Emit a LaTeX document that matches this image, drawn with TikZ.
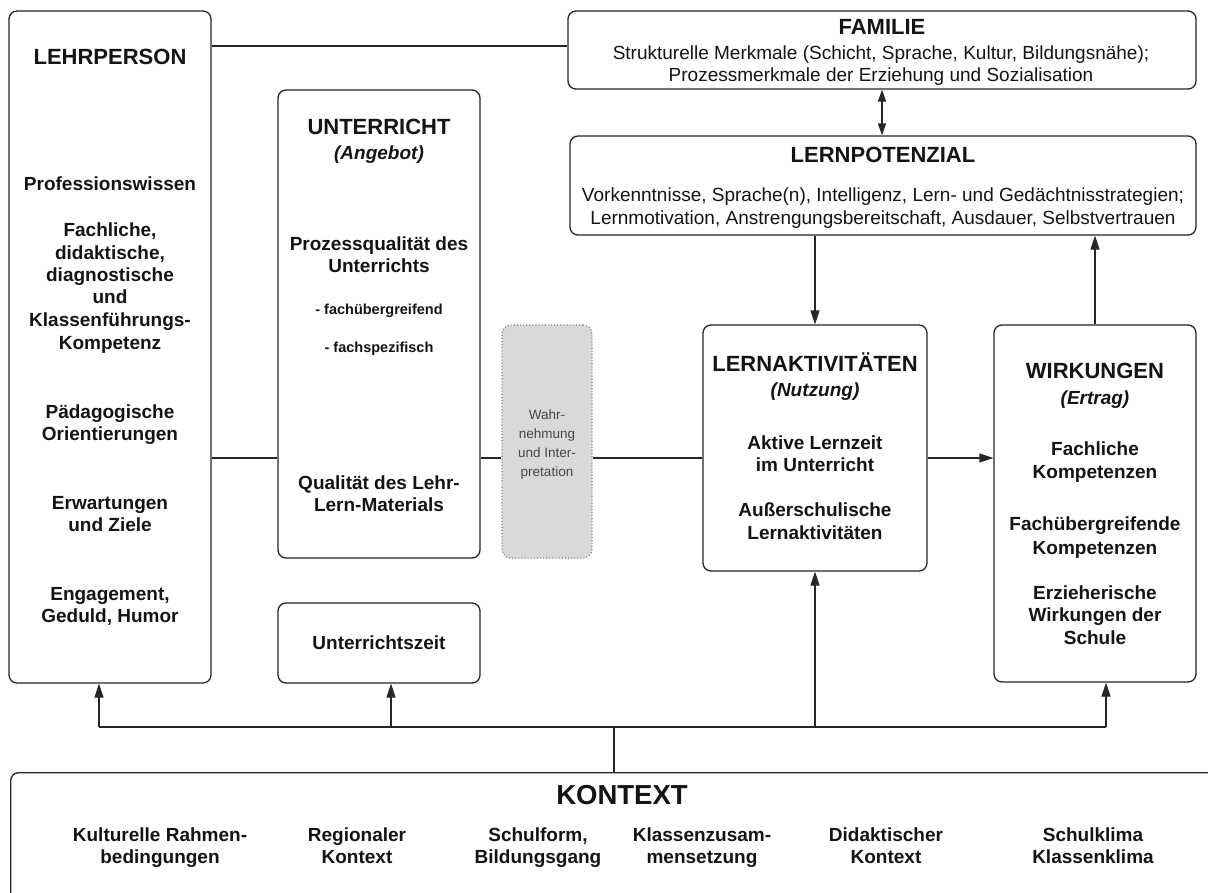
\documentclass[tikz,border=0pt]{standalone}
\usepackage{fontspec}
\setmainfont{Liberation Sans}
\usetikzlibrary{arrows.meta,calc}
\begin{document}
\begin{tikzpicture}[x=1pt,y=-1pt,
  box/.style={draw=black!85, line width=1.3pt, rounded corners=8pt, inner sep=0pt, fill=white},
  grey/.style={draw=black!50, dotted, line width=1.1pt, rounded corners=9pt, inner sep=0pt, fill=black!15},
  conn/.style={draw=black!85, line width=1.3pt},
  arr/.style={conn, -{Triangle[length=14pt,width=9pt]}},
  darr/.style={conn, {Triangle[length=12pt,width=8pt]}-{Triangle[length=12pt,width=8pt]}},
  bus/.style={draw=black!85, line width=2.2pt},
  tl/.style={anchor=base, inner sep=0pt, text=black!92},
  ft/.style={tl, font=\fontsize{22}{26}\selectfont\bfseries},
  fb/.style={tl, font=\fontsize{19}{22}\selectfont\bfseries},
  fi/.style={tl, font=\fontsize{19}{22}\selectfont\bfseries\itshape},
  fr/.style={tl, font=\fontsize{19}{22}\selectfont},
  fs/.style={tl, font=\fontsize{14.5}{17}\selectfont\bfseries},
  fw/.style={tl, font=\fontsize{13.5}{16}\selectfont, text=black!72},
  fk/.style={tl, font=\fontsize{27.5}{32}\selectfont\bfseries}]
\useasboundingbox (0,0) rectangle (1208,892);
\clip (0,0) rectangle (1208,892);
\fill[white] (0,0) rectangle (1208,892);

% boxes
\node[box, minimum width=202pt, minimum height=672pt] (lehr) at (110,347) {};
\node[box, minimum width=202pt, minimum height=468pt] (unt) at (379,324) {};
\node[box, minimum width=202pt, minimum height=80pt] (uz) at (379,643) {};
\node[grey, minimum width=90pt, minimum height=233pt] (wahr) at (547,441.5) {};
\node[box, minimum width=224pt, minimum height=246pt] (lak) at (815,448) {};
\node[box, minimum width=202pt, minimum height=357pt] (wirk) at (1095,503.5) {};
\node[box, minimum width=628pt, minimum height=78pt] (fam) at (882,50) {};
\node[box, minimum width=626pt, minimum height=99pt] (lpot) at (883,185.5) {};
\node[box, minimum width=1240pt, minimum height=160pt, anchor=north west] (kon) at (10,772) {};

% helper coordinates
\coordinate (mid) at (0,458);
\coordinate (famL) at ([yshift=4pt]fam.west);
\coordinate (b1) at (99,727);
\coordinate (b2) at (391,727);
\coordinate (b3) at (815,727);
\coordinate (b4) at (1106,727);
\coordinate (bj) at (614,727);

% connectors
\draw[conn] (lehr.east |- famL) -- (famL);
\draw[conn] (lehr.east |- mid) -- (unt.west |- mid);
\draw[conn] (unt.east |- mid) -- (wahr.west |- mid);
\draw[conn] (wahr.east |- mid) -- (lak.west |- mid);
\draw[arr] (lak.east |- mid) -- (wirk.west |- mid);
\draw[darr] (fam.south) -- (fam.south |- lpot.north);
\draw[arr] (lak.north |- lpot.south) -- (lak.north);
\draw[arr] (wirk.north) -- (wirk.north |- lpot.south);
\draw[bus] (b1) -- (b4);
\draw[conn] (bj) -- (bj |- kon.north);
\draw[arr] (b1) -- (b1 |- lehr.south);
\draw[arr] (b2) -- (b2 |- uz.south);
\draw[arr] (b3) -- (lak.south);
\draw[arr] (b4) -- (b4 |- wirk.south);

% LEHRPERSON
\node[ft] (lh0) at (110,64) {LEHRPERSON};
\node[fb] (lh1) at (110,190) {Professionswissen};
\node[fb] (lh2) at (110,236) {Fachliche,};
\node[fb] (lh3) at (110,259) {didaktische,};
\node[fb] (lh4) at (110,281) {diagnostische};
\node[fb] (lh5) at (110,303) {und};
\node[fb] (lh6) at (110,326) {Klassenführungs-};
\node[fb] (lh7) at (110,349) {Kompetenz};
\node[fb] (lh8) at (110,418) {Pädagogische};
\node[fb] (lh9) at (110,440) {Orientierungen};
\node[fb] (lh10) at (110,509) {Erwartungen};
\node[fb] (lh11) at (110,531) {und Ziele};
\node[fb] (lh12) at (110,600) {Engagement,};
\node[fb] (lh13) at (110,622) {Geduld, Humor};

% UNTERRICHT
\node[ft] (un0) at (379,134) {UNTERRICHT};
\node[fi] (un1) at (379,159) {(Angebot)};
\node[fb] (un2) at (379,250) {Prozessqualität des};
\node[fb] (un3) at (379,272) {Unterrichts};
\node[fs] (un4) at (379,314) {- fachübergreifend};
\node[fs] (un5) at (379,352) {- fachspezifisch};
\node[fb] (un6) at (379,489) {Qualität des Lehr-};
\node[fb] (un7) at (379,511) {Lern-Materials};
\node[fb] (uz1) at (379,649) {Unterrichtszeit};

% Wahrnehmung
\node[fw] (wa1) at (547,419) {Wahr-};
\node[fw] (wa2) at (547,438) {nehmung};
\node[fw] (wa3) at (547,457) {und Inter-};
\node[fw] (wa4) at (547,476) {pretation};

% LERNAKTIVITAETEN
\node[ft] (la0) at (815,371) {LERNAKTIVITÄTEN};
\node[fi] (la1) at (815,396) {(Nutzung)};
\node[fb] (la2) at (815,449) {Aktive Lernzeit};
\node[fb] (la3) at (815,471) {im Unterricht};
\node[fb] (la4) at (815,516) {Außerschulische};
\node[fb] (la5) at (815,539) {Lernaktivitäten};

% WIRKUNGEN
\node[ft] (wi0) at (1095,378) {WIRKUNGEN};
\node[fi] (wi1) at (1095,404) {(Ertrag)};
\node[fb] (wi2) at (1095,455) {Fachliche};
\node[fb] (wi3) at (1095,478) {Kompetenzen};
\node[fb] (wi4) at (1095,530) {Fachübergreifende};
\node[fb] (wi5) at (1095,554) {Kompetenzen};
\node[fb] (wi6) at (1095,599) {Erzieherische};
\node[fb] (wi7) at (1095,621) {Wirkungen der};
\node[fb] (wi8) at (1095,644) {Schule};

% FAMILIE
\node[ft] (fa0) at (882,34) {FAMILIE};
\node[fr] (fa1) at (881,59) {Strukturelle Merkmale (Schicht, Sprache, Kultur, Bildungsnähe);};
\node[fr] (fa2) at (881,81) {Prozessmerkmale der Erziehung und Sozialisation};

% LERNPOTENZIAL
\node[ft] (lp0) at (883,162) {LERNPOTENZIAL};
\node[fr] (lp1) at (883,201) {Vorkenntnisse, Sprache(n), Intelligenz, Lern- und Gedächtnisstrategien;};
\node[fr] (lp2) at (883,224) {Lernmotivation, Anstrengungsbereitschaft, Ausdauer, Selbstvertrauen};

% KONTEXT
\node[fk] (ko0) at (622,804) {KONTEXT};
\node[fb] (k1a) at (160,841) {Kulturelle Rahmen-};
\node[fb] (k1b) at (160,863) {bedingungen};
\node[fb] (k2a) at (357,841) {Regionaler};
\node[fb] (k2b) at (357,863) {Kontext};
\node[fb] (k3a) at (538,841) {Schulform,};
\node[fb] (k3b) at (538,863) {Bildungsgang};
\node[fb] (k4a) at (702,841) {Klassenzusam-};
\node[fb] (k4b) at (702,863) {mensetzung};
\node[fb] (k5a) at (886,841) {Didaktischer};
\node[fb] (k5b) at (886,863) {Kontext};
\node[fb] (k6a) at (1093,841) {Schulklima};
\node[fb] (k6b) at (1093,863) {Klassenklima};
\end{tikzpicture}
\end{document}
